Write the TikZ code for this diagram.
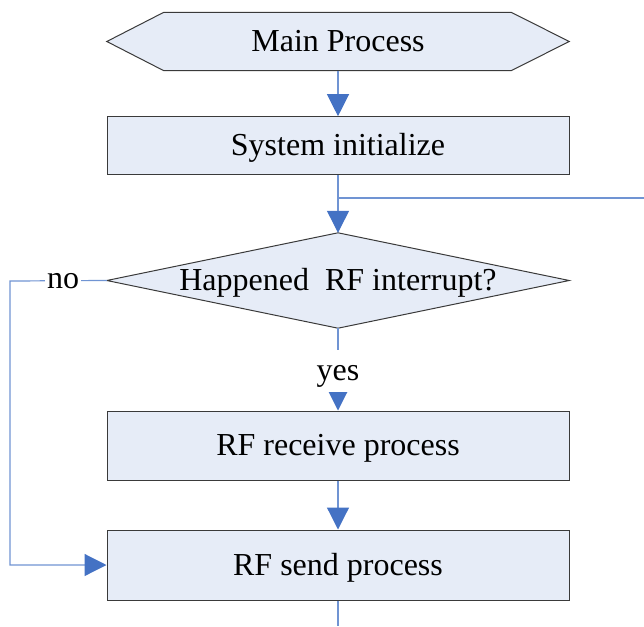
\documentclass[tikz,border=0pt]{standalone}
\usepackage{fontspec}
\setmainfont{Liberation Serif}
\usetikzlibrary{arrows.meta,backgrounds}
\definecolor{boxfill}{HTML}{E6ECF7}
\definecolor{boxline}{HTML}{3A3A3A}
\definecolor{flowline}{HTML}{7094D3}
\definecolor{tipblue}{HTML}{4472C4}
\begin{document}
\begin{tikzpicture}[x=1pt,y=-1pt,
  font=\fontsize{32pt}{38pt}\selectfont,
  frame/.style={minimum width=462pt,inner sep=0pt,text height=27pt,text depth=7pt},
  stepbox/.style={frame,draw=boxline,fill=boxfill,line width=1pt},
  shapeline/.style={draw=boxline,fill=boxfill,line width=1pt,line join=miter},
  flow/.style={draw=flowline,line width=1.2pt},
  arrowed/.style={flow,-{Triangle[length=22pt,width=22pt,color=tipblue]}},
  lbl/.style={fill=white,inner xsep=2pt,inner ysep=10pt}]
\useasboundingbox (0,0) rectangle (644,626);

% blocks
\node[frame,minimum height=58pt] (main) at (338,41.5) {Main Process};
\node[stepbox,minimum height=58pt] (sys) at (338,145.7) {System initialize};
\node[frame,minimum height=95pt] (dec) at (338,280.5) {Happened\ \ RF interrupt?};
\node[stepbox,minimum height=69pt] (recv) at (338,445.5) {RF receive process};
\node[stepbox,minimum height=70pt] (send) at (338,565) {RF send process};

% outlines of the start hexagon and the decision diamond
\begin{scope}[on background layer]
  \path[shapeline] (main.west) -- ([xshift=57pt]main.north west) -- ([xshift=-58pt]main.north east)
    -- (main.east) -- ([xshift=-58pt]main.south east) -- ([xshift=57pt]main.south west) -- cycle;
  \path[shapeline] (dec.west) -- (dec.north) -- (dec.east) -- (dec.south) -- cycle;
\end{scope}

% connector end points
\coordinate (join) at (338,198);
\coordinate (loop) at (644,198);
\coordinate (leftrail) at (10,281);
\coordinate (out) at (338,626);

% connectors
\draw[arrowed] (main.south) -- (sys.north);
\draw[arrowed] (sys.south) -- (dec.north);
\draw[flow] (join) -- (loop);
\draw[arrowed] (dec.south) -- node[lbl,pos=0.52] {\raisebox{-5pt}[\height][\depth]{yes}} (recv.north);
\draw[arrowed] (recv.south) -- (send.north);
\draw[arrowed] (dec.west) -- node[fill=white,inner sep=2pt,pos=0.45] {no} (leftrail) |- (send.west);
\draw[flow] (send.south) -- (out);
\end{tikzpicture}
\end{document}
